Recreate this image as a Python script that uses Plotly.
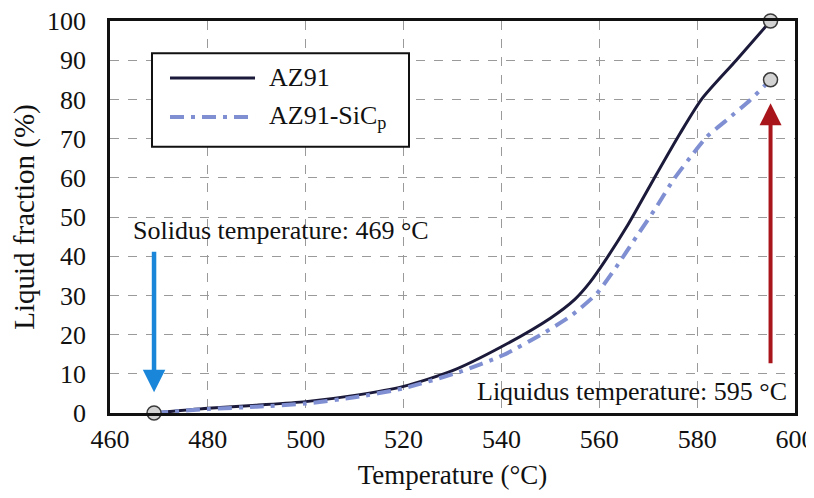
import plotly.graph_objects as go

# ---- data ----
az91_temp = [469, 480, 490, 500, 510, 520, 530, 540, 550, 555, 558, 561, 565.6, 571, 576.5, 581, 588, 595]
az91_frac = [0, 1.2, 2.0, 2.9, 4.5, 6.8, 10.8, 16.9, 24.2, 29.0, 33.2, 38.5, 47.5, 59.4, 71.3, 80.2, 90.0, 100]

sic_temp = [469, 480, 490, 500, 510, 520, 531.5, 540.4, 548.5, 554, 559.5, 563.5, 567.6, 571.7, 575.1, 579.2, 582, 586, 590.8, 595]
sic_frac = [0, 1.0, 1.6, 2.4, 4.0, 6.3, 10.5, 14.8, 20.3, 24.6, 30.5, 37.3, 45.0, 52.6, 59.4, 66.2, 70.5, 74.7, 79.8, 85]

series_names = ["AZ91", "AZ91-SiC<sub>p</sub>"]
solidus_temp = 469
liquidus_temp = 595
x_ticks = [460, 480, 500, 520, 540, 560, 580, 600]
y_ticks = [0, 10, 20, 30, 40, 50, 60, 70, 80, 90, 100]

FONT = "Liberation Serif"
INK = "#111111"
C_AZ = "#1c1a3a"
C_SIC = "#7f8fd2"
DASH_SIC = "14px,7px,4px,7px"

fig = go.Figure()
fig.add_trace(go.Scatter(
    x=az91_temp, y=az91_frac, mode="lines", name=series_names[0],
    line=dict(color=C_AZ, width=3, shape="spline", smoothing=0.7),
    showlegend=False))
fig.add_trace(go.Scatter(
    x=sic_temp, y=sic_frac, mode="lines", name=series_names[1],
    line=dict(color=C_SIC, width=4, dash=DASH_SIC, shape="spline", smoothing=0.6),
    showlegend=False))
# end-point markers
fig.add_trace(go.Scatter(
    x=[az91_temp[0], az91_temp[-1], sic_temp[-1]],
    y=[az91_frac[0], az91_frac[-1], sic_frac[-1]],
    mode="markers", showlegend=False, cliponaxis=False,
    marker=dict(size=14, color="#d3d3d3", line=dict(color="#3a3a3a", width=1.5))))

# arrows
fig.add_annotation(x=solidus_temp, y=5.3, ax=solidus_temp, ay=41.5,
                   xref="x", yref="y", axref="x", ayref="y",
                   showarrow=True, arrowhead=2, arrowsize=1.0, arrowwidth=4.5,
                   arrowcolor="#1a86d9", text="")
fig.add_annotation(x=liquidus_temp, y=79.0, ax=liquidus_temp, ay=12.3,
                   xref="x", yref="y", axref="x", ayref="y",
                   showarrow=True, arrowhead=2, arrowsize=1.1, arrowwidth=4,
                   arrowcolor="#a8161c", text="")
fig.add_annotation(x=464.2, y=46.5, xref="x", yref="y", xanchor="left", yanchor="middle",
                   text=f"Solidus temperature: {solidus_temp} °C", showarrow=False,
                   font=dict(family=FONT, size=26, color=INK))
fig.add_annotation(x=598.8, y=5.6, xref="x", yref="y", xanchor="right", yanchor="middle",
                   text=f"Liquidus temperature: {liquidus_temp} °C", showarrow=False,
                   font=dict(family=FONT, size=26, color=INK))

# legend box (drawn like the reference: long line samples)
fig.add_shape(type="rect", xref="paper", yref="paper", x0=0.0613, x1=0.4365, y0=0.679, y1=0.918,
              line=dict(color=INK, width=2), fillcolor="white", layer="above")
legend_rows = [(0.8546, C_AZ, 3, "solid"), (0.755, C_SIC, 4, DASH_SIC)]
for name, (yy, col, w, dash) in zip(series_names, legend_rows):
    fig.add_shape(type="line", xref="paper", yref="paper", x0=0.0876, x1=0.2117, y0=yy, y1=yy,
                  line=dict(color=col, width=w, dash=dash), layer="above")
    fig.add_annotation(x=0.229, y=yy, xref="paper", yref="paper", xanchor="left", yanchor="middle",
                       text=name, showarrow=False, font=dict(family=FONT, size=26, color=INK))

axis_common = dict(
    showline=True, linecolor=INK, linewidth=2.5, mirror=True,
    showgrid=True, gridcolor="#9a9a9a", griddash="dash", gridwidth=1,
    zeroline=False, ticks="outside", tickcolor="rgba(0,0,0,0)",
    tickfont=dict(family=FONT, size=26, color=INK), automargin=False,
    ticklabeloverflow="allow",
)
fig.update_xaxes(range=[460, 600], tickvals=x_ticks, ticklen=1,
                 title=dict(text="Temperature (°C)", font=dict(family=FONT, size=27, color=INK), standoff=13),
                 **axis_common)
fig.update_yaxes(range=[0, 100], tickvals=y_ticks, ticklen=16,
                 title=dict(text="Liquid fraction (%)", font=dict(family=FONT, size=29, color=INK), standoff=14),
                 **axis_common)

# the page adds an 8 px body margin, so the figure is made 8 px smaller on the left/top
fig.update_layout(
    width=806, height=490,
    margin=dict(l=102, r=19, t=13, b=85),
    plot_bgcolor="white", paper_bgcolor="white",
    showlegend=False,
)

fig.write_html("out.html")
